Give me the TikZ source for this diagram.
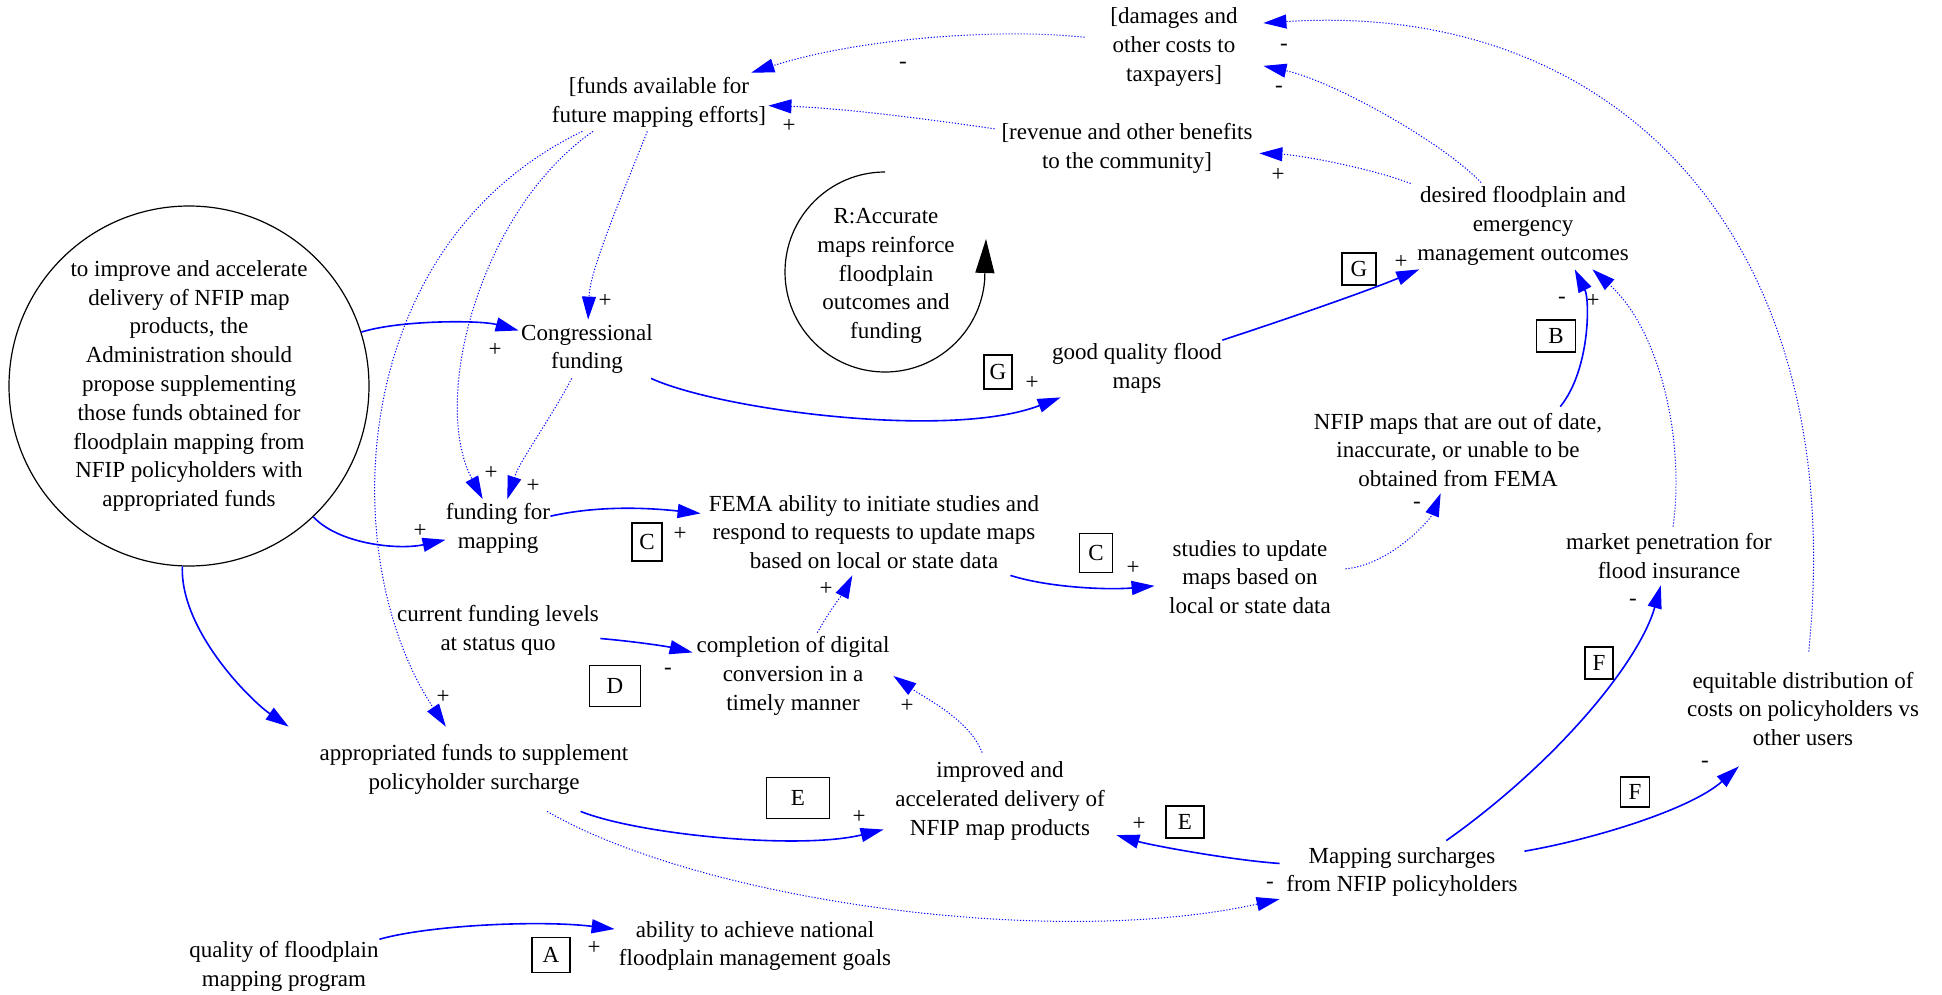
\documentclass[tikz,border=0pt]{standalone}
\usepackage{fontspec}
\setmainfont{Liberation Serif}
\usetikzlibrary{arrows.meta}
\definecolor{eblue}{RGB}{0,0,255}
\begin{document}
\begin{tikzpicture}[x=0.5pt,y=-0.5pt,
  every node/.style={font=\fontsize{11.5}{14.4}\selectfont},
  var/.style={align=center, inner sep=0pt},
  lbox/.style={draw, line width=0.6pt, inner sep=0pt},
  sgn/.style={inner sep=0pt},
  sline/.style={draw=eblue, line width=0.8pt, -{Triangle[length=11.5pt,width=7pt]}},
  dline/.style={draw=eblue, line width=0.5pt, dash pattern=on 0.6pt off 0.9pt, -{Triangle[length=11.5pt,width=7pt]}}
]
\useasboundingbox (0,0) rectangle (1942,995);

% variables
\node[var, minimum width=89pt, minimum height=43pt] (dam) at (1174,47) {[damages and\\other costs to\\taxpayers]};
\node[var, minimum width=109pt, minimum height=29pt] (funds) at (659,102) {[funds available for\\future mapping efforts]};
\node[var, minimum width=132pt, minimum height=29pt] (rev) at (1127,148) {[revenue and other benefits\\to the community]};
\node[var, minimum width=112pt, minimum height=43pt] (des) at (1523,226) {desired floodplain and\\emergency\\management outcomes};
\node[var, minimum width=68pt, minimum height=29pt] (cong) at (587,349) {Congressional\\funding};
\node[var, minimum width=52pt, minimum height=28.5pt] (ffm) at (498,528) {funding for\\mapping};
\node[var, minimum width=173pt, minimum height=43pt] (fema) at (874,532) {FEMA ability to initiate studies and\\respond to requests to update maps\\based on local or state data};
\node[var, minimum width=84pt, minimum height=29pt] (good) at (1137,368) {good quality flood\\maps};
\node[var, minimum width=150pt, minimum height=43pt] (nfip) at (1458,450) {NFIP maps that are out of date,\\inaccurate, or unable to be\\obtained from FEMA};
\node[var, minimum width=95pt, minimum height=43pt] (stud) at (1250,577) {studies to update\\maps based on\\local or state data};
\node[var, minimum width=105pt, minimum height=29pt] (mkt) at (1669,556) {market penetration for\\flood insurance};
\node[var, minimum width=120pt, minimum height=57pt] (equ) at (1803,709) {equitable distribution of\\costs on policyholders vs\\other users};
\node[var, minimum width=102pt, minimum height=29pt] (cur) at (498,630) {current funding levels\\at status quo};
\node[var, minimum width=100pt, minimum height=43pt] (comp) at (793,676) {completion of digital\\conversion in a\\timely manner};
\node[var, minimum width=185pt, minimum height=42pt] (appr) at (474,769) {appropriated funds to supplement\\policyholder surcharge};
\node[var, minimum width=116pt, minimum height=48pt] (impr) at (1000,801) {improved and\\accelerated delivery of\\NFIP map products};
\node[var, minimum width=122pt, minimum height=31pt] (surch) at (1402,872) {Mapping surcharges\\from NFIP policyholders};
\node[var, minimum width=95pt, minimum height=29pt] (qual) at (284,966) {quality of floodplain\\mapping program};
\node[var, minimum width=140pt, minimum height=29pt] (abil) at (755,946) {ability to achieve national\\floodplain management goals};

\node[draw, circle, line width=0.6pt, minimum size=180pt, inner sep=0pt, align=center] (adm) at (189,386)
  {to improve and accelerate\\delivery of NFIP map\\products, the\\Administration should\\propose supplementing\\those funds obtained for\\floodplain mapping from\\NFIP policyholders with\\appropriated funds};

% reinforcing loop marker
\node[var] (loopt) at (886,276) {R:Accurate\\maps reinforce\\floodplain\\outcomes and\\funding};
\coordinate (looptop) at (885,172);
\coordinate (looptip) at (986,239);
\draw[line width=0.6pt, -{Triangle[length=17pt,width=9.5pt]}] (looptop) arc[start angle=-90, end angle=-355, radius=100] -- (looptip);

% letter boxes
\node[lbox, minimum width=19pt, minimum height=17.5pt] (bA) at (551,955) {A};
\node[lbox, minimum width=15pt, minimum height=19pt] (bC1) at (647,542) {C};
\node[lbox, minimum width=25.5pt, minimum height=20.5pt] (bD) at (615,686) {D};
\node[lbox, minimum width=31.5pt, minimum height=20.5pt] (bE1) at (798,798) {E};
\node[lbox, minimum width=19pt, minimum height=16pt] (bE2) at (1185,822) {E};
\node[lbox, minimum width=14pt, minimum height=16pt] (bF1) at (1599,663) {F};
\node[lbox, minimum width=14.5pt, minimum height=15pt] (bF2) at (1635,792) {F};
\node[lbox, minimum width=16.5pt, minimum height=19.5pt] (bC2) at (1096,553) {C};
\node[lbox, minimum width=14pt, minimum height=17pt] (bG1) at (998,372) {G};
\node[lbox, minimum width=17pt, minimum height=16pt] (bG2) at (1359,269) {G};
\node[lbox, minimum width=19.5pt, minimum height=16pt] (bB) at (1556,336) {B};

% polarity signs
\node[sgn] (s1) at (903,65) {-};
\node[sgn] (s2) at (789,126) {+};
\node[sgn] (s3) at (1284,47) {-};
\node[sgn] (s4) at (1279,89) {-};
\node[sgn] (s5) at (1278,175) {+};
\node[sgn] (s6) at (605,301) {+};
\node[sgn] (s7) at (495,350) {+};
\node[sgn] (s8) at (491,473) {+};
\node[sgn] (s9) at (533,486) {+};
\node[sgn] (s10) at (420,531) {+};
\node[sgn] (s11) at (680,534) {+};
\node[sgn] (s12) at (1032,383) {+};
\node[sgn] (s13) at (1401,262) {+};
\node[sgn] (s14) at (1562,300) {-};
\node[sgn] (s15) at (1593,301) {+};
\node[sgn] (s16) at (1417,505) {-};
\node[sgn] (s17) at (1133,568) {+};
\node[sgn] (s18) at (826,589) {+};
\node[sgn] (s19) at (668,671) {-};
\node[sgn] (s20) at (907,706) {+};
\node[sgn] (s21) at (443,697) {+};
\node[sgn] (s22) at (859,817) {+};
\node[sgn] (s23) at (1139,824) {+};
\node[sgn] (s24) at (1270,885) {-};
\node[sgn] (s25) at (1633,602) {-};
\node[sgn] (s26) at (1705,764) {-};
\node[sgn] (s27) at (594,948) {+};

% connectors
\draw[dline] (dam) .. controls (1000,28) and (860,38) .. (funds);
\draw[dline] (rev) .. controls (920,118) and (840,108) .. (funds);
\draw[dline] (des) .. controls (1440,140) and (1330,80) .. (dam);
\draw[dline] (des) .. controls (1370,168) and (1300,155) .. (rev);
\draw[dline] (equ) .. controls (1850,240) and (1620,0) .. (dam.15);
\draw[dline] (funds) .. controls (620,200) and (590,270) .. (cong);
\draw[dline] (funds.-156) .. controls (480,210) and (430,400) .. (ffm);
\draw[dline] (funds.-159) .. controls (345,245) and (335,560) .. (appr);
\draw[dline] (cong) .. controls (550,420) and (520,460) .. (ffm);
\draw[sline] (adm) .. controls (400,320) and (480,320) .. (cong);
\draw[sline] (adm) .. controls (340,545) and (400,550) .. (ffm);
\draw[sline] (adm) .. controls (180,630) and (250,700) .. (appr.north west);
\draw[sline] (cong) .. controls (720,410) and (950,440) .. (good);
\draw[sline] (good) .. controls (1290,318) and (1370,290) .. (des);
\draw[sline] (nfip.23) .. controls (1590,370) and (1590,300) .. (des.-40);
\draw[dline] (mkt) .. controls (1685,440) and (1660,330) .. (des.-32);
\draw[sline] (ffm) .. controls (600,505) and (650,508) .. (fema);
\draw[sline] (fema) .. controls (1050,588) and (1110,590) .. (stud);
\draw[dline] (stud) .. controls (1390,565) and (1430,520) .. (nfip);
\draw[sline] (cur) .. controls (630,641) and (665,646) .. (comp);
\draw[dline] (comp) .. controls (830,610) and (845,590) .. (fema);
\draw[dline] (impr) .. controls (970,720) and (925,698) .. (comp.east);
\draw[sline] (appr) .. controls (640,835) and (800,850) .. (impr);
\draw[dline] (appr) .. controls (700,900) and (1050,950) .. (surch);
\draw[sline] (surch) .. controls (1230,860) and (1150,845) .. (impr);
\draw[sline] (surch) .. controls (1560,760) and (1640,660) .. (mkt);
\draw[sline] (surch) .. controls (1590,840) and (1690,810) .. (equ);
\draw[sline] (qual) .. controls (430,925) and (540,920) .. (abil);
\end{tikzpicture}
\end{document}
